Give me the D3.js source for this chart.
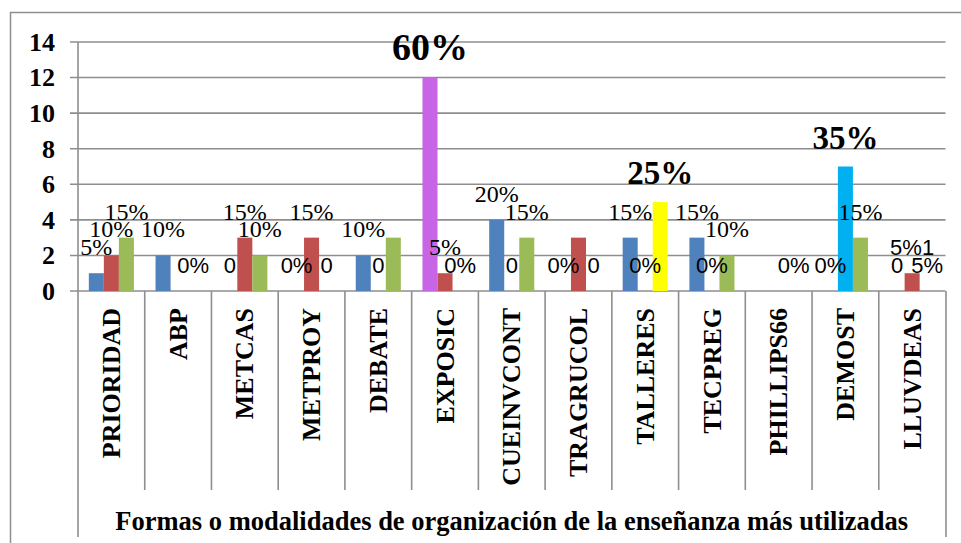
<!DOCTYPE html>
<html>
<head>
<meta charset="utf-8">
<script src="https://cdn.jsdelivr.net/npm/d3@7"></script>
<style>
  html, body { margin: 0; padding: 0; background: #fff; }
  svg { display: block; }
  .serif { font-family: "Liberation Serif", "Times New Roman", Times, "DejaVu Serif", serif; }
  .sans { font-family: "Liberation Sans", Arial, "DejaVu Sans", sans-serif; }
</style>
</head>
<body>
<svg id="chart" width="961" height="543"></svg>
<script>
// ---------- DATA ----------
const categories = ["PRIORIDAD","ABP","METCAS","METPROY","DEBATE","EXPOSIC","CUEINVCONT","TRAGRUCOL","TALLERES","TECPREG","PHILLIPS66","DEMOST","LLUVDEAS"];
const seriesNames = ["Serie1","Serie2","Serie3"];
const serie1 = [1, 2, 0, 0, 2, 12, 4, 0, 3, 3, 0, 0, 0];
const serie2 = [2, 0, 3, 3, 0, 1, 0, 3, 0, 0, 0, 7, 1];
const serie3 = [3, 0, 2, 0, 3, 0, 3, 0, 5, 2, 0, 3, 0];
const labels1 = ["5%","10%","0","0%","10%","60%","20%","0%","15%","15%","","0%","0"];
const labels2 = ["10%","","15%","15%","0","5%","0","","0%","0%","","35%","5%1"];
const labels3 = ["15%","0%","10%","0","","0%","15%","0","25%","10%","0%","15%","5%"];
// highlighted bars: [category, series index]
const highlights = [["EXPOSIC",0],["TALLERES",2],["DEMOST",1]];
const yTicks = [0,2,4,6,8,10,12,14];
const xTitle = "Formas o modalidades de organización de la enseñanza más utilizadas";

// ---------- STYLE ----------
const seriesColors = ["#4F81BD","#C0504D","#9BBB59"];
const highlightColors = {"EXPOSIC":"#C864E6","TALLERES":"#FFFF00","DEMOST":"#00B0F0"};
const highlightFontSize = {"EXPOSIC":38,"TALLERES":33,"DEMOST":33};
const gridColor = "#8E8E8E";

const svg = d3.select("#chart");
const plotLeft = 78, plotRight = 945.5, plotTop = 42, plotBottom = 291;

// outer border
svg.append("rect").attr("x",10.5).attr("y",12.5).attr("width",1000).attr("height",600)
  .attr("fill","none").attr("stroke",gridColor).attr("stroke-width",1.5);

const y = d3.scaleLinear().domain([0,14]).range([plotBottom, plotTop]);
const x0 = d3.scaleBand().domain(categories).range([plotLeft, plotRight]).padding(0);
const x1 = d3.scaleBand().domain(seriesNames).range([0, x0.bandwidth()]).paddingInner(0).paddingOuter(0.72);

// gridlines + ticks
svg.append("g").selectAll("line").data(yTicks).join("line")
  .attr("x1", 70).attr("x2", plotRight)
  .attr("y1", d => y(d)).attr("y2", d => y(d))
  .attr("stroke", gridColor).attr("stroke-width", 1.6);

// y tick labels
svg.append("g").selectAll("text").data(yTicks).join("text")
  .attr("class","serif")
  .attr("x", 55).attr("y", d => y(d)).attr("dy","0.34em")
  .attr("text-anchor","end")
  .attr("font-weight","bold").attr("font-size", 26)
  .text(d => d);

// y axis line
svg.append("line").attr("x1",plotLeft).attr("x2",plotLeft).attr("y1",plotTop).attr("y2",537)
  .attr("stroke",gridColor).attr("stroke-width",1.6);
// right box line of category axis
svg.append("line").attr("x1",plotRight+0.5).attr("x2",plotRight+0.5).attr("y1",plotBottom).attr("y2",537)
  .attr("stroke",gridColor).attr("stroke-width",1.6);
// category separators
svg.append("g").selectAll("line").data(categories.slice(1)).join("line")
  .attr("x1", d => x0(d)).attr("x2", d => x0(d))
  .attr("y1", plotBottom).attr("y2", 490)
  .attr("stroke", gridColor).attr("stroke-width", 1.6);

// bars
const allValues = [serie1, serie2, serie3];
const allLabels = [labels1, labels2, labels3];
const barData = [];
categories.forEach((c, i) => {
  seriesNames.forEach((s, j) => {
    const hl = highlights.some(h => h[0] === c && h[1] === j);
    barData.push({cat: c, s, j, v: allValues[j][i], label: allLabels[j][i], hl});
  });
});

svg.append("g").selectAll("rect").data(barData.filter(d => d.v > 0)).join("rect")
  .attr("x", d => x0(d.cat) + x1(d.s))
  .attr("width", x1.bandwidth())
  .attr("y", d => y(d.v))
  .attr("height", d => y(0) - y(d.v))
  .attr("fill", d => d.hl ? highlightColors[d.cat] : seriesColors[d.j]);

// data labels
const isSans = d => (d.v === 0 || d.cat === "LLUVDEAS") && !d.hl;
svg.append("g").selectAll("text").data(barData.filter(d => d.label !== "")).join("text")
  .attr("class", d => isSans(d) ? "sans" : "serif")
  .attr("x", d => x0(d.cat) + x1(d.s) + x1.bandwidth()/2)
  .attr("y", d => y(d.v) - 18)
  .attr("text-anchor","middle")
  .attr("font-weight", d => d.hl ? "bold" : "normal")
  .attr("font-size", d => d.hl ? highlightFontSize[d.cat] : (isSans(d) ? 22 : 24))
  .text(d => d.label);

// category labels
svg.append("g").selectAll("text").data(categories).join("text")
  .attr("class","serif")
  .attr("transform", d => `translate(${x0(d) + x0.bandwidth()/2},308) rotate(-90)`)
  .attr("dy","0.33em")
  .attr("text-anchor","end")
  .attr("font-weight","bold").attr("font-size", 26)
  .text(d => d);

// axis title
svg.append("text").attr("class","serif")
  .attr("x", (plotLeft + plotRight)/2).attr("y", 530)
  .attr("text-anchor","middle")
  .attr("font-weight","bold").attr("font-size", 26.5)
  .text(xTitle);
</script>
</body>
</html>
